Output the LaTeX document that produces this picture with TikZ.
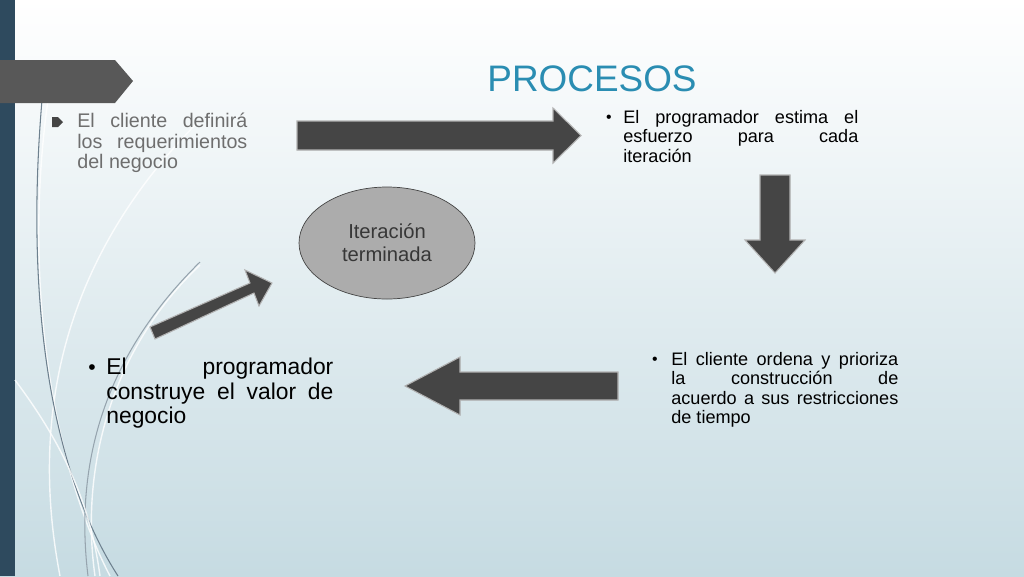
\documentclass[tikz,border=0pt]{standalone}
\usepackage{fontspec}
\setmainfont{Liberation Sans}
\usetikzlibrary{shapes.geometric}
\definecolor{slate}{HTML}{2E4A5E}
\definecolor{blockgray}{HTML}{454545}
\definecolor{titleblue}{HTML}{2A8DB2}
\definecolor{textgray}{HTML}{6E6E6E}
\definecolor{bgbottom}{HTML}{C6DBE2}
\tikzset{
  blockarrow/.style={fill=blockgray,draw=gray!60,line width=0.6pt},
  bullettext/.style={anchor=north west,align=justify,inner sep=0pt,font=\fontsize{10.3}{11}\selectfont},
  swirl/.style={white,line width=0.8pt,opacity=0.8}
}
\begin{document}
\begin{tikzpicture}[x=0.02cm,y=-0.02cm]
% background
\shade[top color=white,bottom color=bgbottom] (0,0) rectangle (1024,576);
\useasboundingbox (0,0) rectangle (1024,576);
\fill[slate] (0,0) rectangle (15,576);
% swirls
\draw[swirl] (48,100) .. controls (20,300) and (60,480) .. (110,576);
\draw[swirl] (200,120) .. controls (60,260) and (30,420) .. (60,576);
\draw[swirl] (200,265) .. controls (110,350) and (80,470) .. (95,576);
\draw[slate!70,line width=0.6pt] (42,100) .. controls (25,300) and (50,470) .. (118,576);
\draw[slate!50,line width=0.6pt] (200,262) .. controls (100,360) and (75,470) .. (88,576);
\draw[swirl] (15,380) .. controls (60,440) and (90,500) .. (100,576);
% header tab
\fill[blockgray!90] (0,60) -- (115,60) -- (133,81) -- (115,103) -- (0,103) -- cycle;
\node[text=titleblue,font=\fontsize{21}{24}\selectfont] (title) at (592,79) {PROCESOS};
% left top bullet
\fill[blockgray] (52,117) -- (58,117) -- (63,122) -- (58,127) -- (52,127) -- cycle;
\node[bullettext,text=textgray,text width=170*0.02cm,font=\fontsize{11.2}{11.6}\selectfont] (cliente) at (77,113)
  {El cliente definirá\linebreak los requerimientos del negocio};
% right arrow
\filldraw[blockarrow] (297,121) -- (553,121) -- (553,108) -- (581,135.5) -- (553,163) -- (553,150) -- (297,150) -- cycle;
% top right text
\node[font=\fontsize{9}{11}\selectfont] (b1) at (609,119) {•};
\node[bullettext,text width=235*0.02cm] (estima) at (623,110)
  {El programador estima el\linebreak esfuerzo para cada\linebreak iteración};
% down arrow
\filldraw[blockarrow] (760,175) -- (790,175) -- (790,240) -- (805,240) -- (775,273) -- (745,240) -- (760,240) -- cycle;
% bottom right text
\node[font=\fontsize{9}{11}\selectfont] (b2) at (655,361) {•};
\node[bullettext,text width=227*0.02cm] (ordena) at (671,352)
  {El cliente ordena y prioriza\linebreak la construcción de\linebreak acuerdo a sus restricciones de tiempo};
% left arrow
\filldraw[blockarrow] (618,372) -- (460,372) -- (460,357) -- (405,386) -- (460,415) -- (460,400) -- (618,400) -- cycle;
% ellipse
\node[ellipse,draw=blockgray,fill=gray!65,minimum width=176*0.02cm,minimum height=112*0.02cm,
  align=center,text=blockgray!80!black,font=\fontsize{11.5}{13}\selectfont] (iter) at (387,243) {Iteración\\terminada};
% diagonal arrow
\filldraw[blockarrow] (150,327) -- (250,283) -- (245,270) -- (272,283) -- (259,306) -- (254,293) -- (155,339) -- cycle;
% bottom left text
\node[font=\fontsize{12}{13}\selectfont] (b3) at (92,370) {•};
\node[bullettext,text width=227*0.02cm,font=\fontsize{13}{13.8}\selectfont] (construye) at (106,358)
  {El programador\linebreak construye el valor de\linebreak negocio};
\end{tikzpicture}
\end{document}
